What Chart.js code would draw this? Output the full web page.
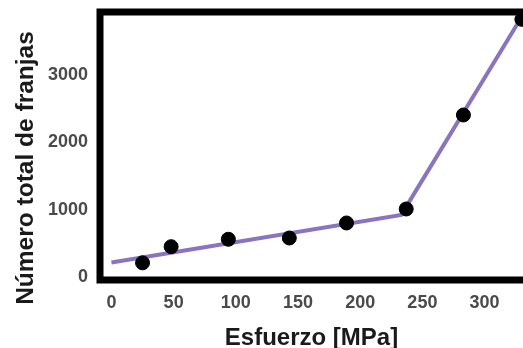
<!DOCTYPE html>
<html>
<head>
<meta charset="utf-8">
<script src="https://cdn.jsdelivr.net/npm/chart.js@4"></script>
<style>
  html, body { margin: 0; padding: 0; background: #ffffff; }
  #c { display: block; }
</style>
</head>
<body>
<canvas id="c" width="523" height="348"></canvas>
<script>
// Measured points (Esfuerzo [MPa], Número total de franjas)
const stressPoints = [25, 48, 94, 143, 189, 237, 283, 330];
const fringePoints = [210, 450, 560, 579, 802, 1010, 2406, 3827];
// Fitted bilinear trend line (vertices)
const stressFit = [0, 233, 331];
const fringeFit = [215, 922, 3900];
// Tick labels
const xTicks = [0, 50, 100, 150, 200, 250, 300];
const yTicks = [0, 1000, 2000, 3000];

const xTitle = 'Esfuerzo [MPa]';
const yTitle = 'Número total de franjas';

const FAMILY = '"Liberation Sans", Arial, sans-serif';
const tickFont = { family: FAMILY, size: 18, weight: 'bold' };
const titleFont = { family: FAMILY, size: 24, weight: 'bold', lineHeight: 0.8 };

const boxPlugin = {
  id: 'box',
  beforeDatasetsDraw(chart) {
    const { ctx, chartArea: a } = chart;
    ctx.save();
    ctx.strokeStyle = '#000000';
    ctx.lineWidth = 7;
    ctx.lineCap = 'square';
    ctx.beginPath();
    ctx.moveTo(a.right + 10, a.top);
    ctx.lineTo(a.left, a.top);
    ctx.lineTo(a.left, a.bottom);
    ctx.lineTo(a.right + 10, a.bottom);
    ctx.stroke();
    ctx.restore();
  },
  afterDraw(chart) {
    // Y-axis title, placed as in the reference (slightly below the plot centre)
    const { ctx } = chart;
    ctx.save();
    ctx.translate(26, 168);
    ctx.rotate(-Math.PI / 2);
    ctx.font = 'bold 24.5px ' + FAMILY;
    ctx.fillStyle = '#1a1a1a';
    ctx.textAlign = 'center';
    ctx.textBaseline = 'middle';
    ctx.fillText(yTitle, 0, 0);
    ctx.restore();
  }
};

const noPad = axis => {
  axis.paddingTop = 0; axis.paddingBottom = 0;
  axis.paddingLeft = 0; axis.paddingRight = 0;
};

new Chart(document.getElementById('c'), {
  type: 'scatter',
  data: {
    datasets: [
      {
        data: stressPoints.map((x, i) => ({ x, y: fringePoints[i] })),
        backgroundColor: '#000000',
        borderColor: '#000000',
        pointRadius: 7,
        pointHoverRadius: 7,
        showLine: false,
        order: 0,
        clip: false
      },
      {
        data: stressFit.map((x, i) => ({ x, y: fringeFit[i] })),
        showLine: true,
        borderColor: '#8A74BF',
        borderWidth: 4,
        pointRadius: 0,
        pointHoverRadius: 0,
        fill: false,
        tension: 0,
        order: 1
      }
    ]
  },
  options: {
    responsive: false,
    devicePixelRatio: 1,
    animation: false,
    events: [],
    layout: { autoPadding: false, padding: { top: 12, left: 0, right: 0, bottom: 0 } },
    plugins: {
      legend: { display: false },
      tooltip: { enabled: false },
      title: { display: false }
    },
    scales: {
      x: {
        type: 'linear',
        min: -9.2,
        max: 330.9,
        grid: { display: false, drawTicks: false },
        border: { display: false },
        afterBuildTicks: axis => { axis.ticks = xTicks.map(v => ({ value: v })); },
        afterFit: axis => { axis.height = 68; noPad(axis); },
        ticks: {
          font: tickFont,
          color: '#4a4a4a',
          padding: 12,
          maxRotation: 0,
          autoSkip: false,
          callback: v => String(v)
        },
        title: {
          display: true,
          text: xTitle,
          font: titleFont,
          color: '#1a1a1a',
          padding: { top: 0, bottom: 0 }
        }
      },
      y: {
        type: 'linear',
        min: -45,
        max: 3936,
        grid: { display: false, drawTicks: false },
        border: { display: false },
        afterBuildTicks: axis => { axis.ticks = yTicks.map(v => ({ value: v })); },
        afterFit: axis => { axis.width = 100; noPad(axis); },
        ticks: {
          font: tickFont,
          color: '#4a4a4a',
          padding: 12,
          autoSkip: false,
          callback: v => String(v)
        },
        title: { display: false, text: yTitle }
      }
    }
  },
  plugins: [boxPlugin]
});
</script>
</body>
</html>
